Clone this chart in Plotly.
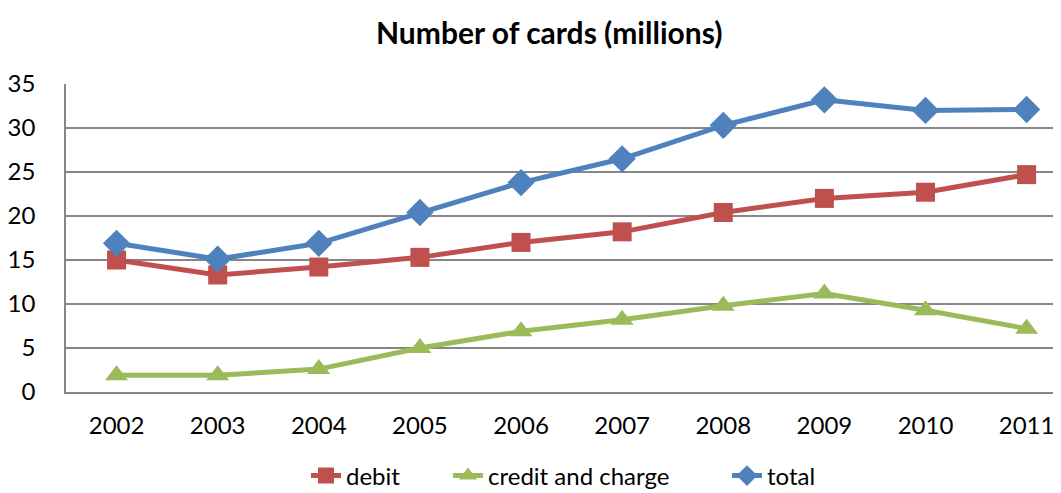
import plotly.graph_objects as go

years = ["2002", "2003", "2004", "2005", "2006", "2007", "2008", "2009", "2010", "2011"]
debit = [15.0, 13.3, 14.2, 15.3, 17.0, 18.2, 20.4, 22.0, 22.7, 24.7]
credit = [1.9, 1.9, 2.6, 5.0, 6.9, 8.2, 9.8, 11.2, 9.3, 7.2]
total = [16.9, 15.1, 16.9, 20.4, 23.8, 26.5, 30.3, 33.2, 32.0, 32.1]
y_ticks = [0, 5, 10, 15, 20, 25, 30, 35]

FONT = "Lato"
W, H = 1053, 485

fig = go.Figure()
fig.add_trace(go.Scatter(x=years, y=debit, name="debit", mode="lines+markers",
                         line=dict(color="#C0504D", width=5), legend="legend",
                         marker=dict(symbol="square", size=19, color="#C0504D")))
fig.add_trace(go.Scatter(x=years, y=credit, name="credit and charge", mode="lines+markers",
                         line=dict(color="#9BBB59", width=5), legend="legend2",
                         marker=dict(symbol="triangle-up", size=20, color="#9BBB59")))
fig.add_trace(go.Scatter(x=years, y=total, name="total", mode="lines+markers",
                         line=dict(color="#4F81BD", width=5), legend="legend3",
                         marker=dict(symbol="diamond", size=21, color="#4F81BD")))

def leg(px_left):
    return dict(orientation="h", xref="container", yref="container",
                x=px_left / W, xanchor="left", y=17 / H, yanchor="middle",
                font=dict(family=FONT, size=24), bgcolor="rgba(0,0,0,0)")

# page body has an 8px margin; compensate so the plot area lands where the reference has it
fig.update_layout(
    width=W, height=H,
    margin=dict(l=55, r=0, t=76, b=101),
    paper_bgcolor="white", plot_bgcolor="white",
    font=dict(family=FONT, size=24, color="black"),
    title=dict(text="<b>Number of cards (millions)</b>", x=0.514, xanchor="center",
               y=1 - 25 / H, yanchor="middle", font=dict(family=FONT, size=30, color="black")),
    showlegend=True,
    legend=leg(298), legend2=leg(440), legend3=leg(719),
)
fig.update_xaxes(type="category", range=[-0.5, 9.34], showgrid=False,
                 showline=True, linecolor="#868686", linewidth=1.5,
                 ticks="", tickfont=dict(size=24), ticklabelstandoff=11)
fig.update_yaxes(range=[0, 35], tickvals=y_ticks, showgrid=True, gridcolor="#868686",
                 gridwidth=1.5, showline=True, linecolor="#868686", linewidth=1.5,
                 zeroline=False, ticks="", tickfont=dict(size=24), ticklabelstandoff=24)

fig.write_html("out.html")
